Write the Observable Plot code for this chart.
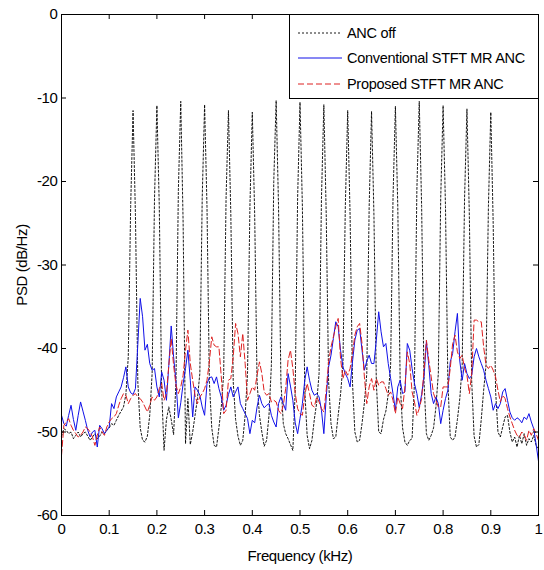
<!DOCTYPE html>
<html>
<head>
<meta charset="utf-8">
<script src="https://cdn.jsdelivr.net/npm/d3@7"></script>
<script src="https://cdn.jsdelivr.net/npm/@observablehq/plot@0.6"></script>
<style>
  html, body { margin: 0; padding: 0; background: white; }
  #wrap { position: relative; width: 544px; height: 570px; }
  #legend {
    position: absolute; left: 289px; top: 14px; width: 248px; height: 83px;
    border: 1px solid black; background: white; box-sizing: content-box;
    font-family: "Liberation Sans", Arial, sans-serif; font-size: 14.5px; letter-spacing: -0.3px;
  }
  .row { position: absolute; left: 0; height: 20px; display: flex; align-items: center; }
  .row svg { margin-left: 8px; margin-right: 5px; }
</style>
</head>
<body>
<div id="wrap"></div>
<script>
// Frequency grid step (kHz); 201 bins from 0 to 1 kHz
const freqStepKHz = 0.005;

const xTicks = [0, 0.1, 0.2, 0.3, 0.4, 0.5, 0.6, 0.7, 0.8, 0.9, 1];
const yTicks = [-60, -50, -40, -30, -20, -10, 0];

const seriesNames = ["ANC off", "Conventional STFT MR ANC", "Proposed STFT MR ANC"];

// PSD (dB/Hz) — ANC off
const ancOff = [
  -50.5,-49.6,-49.8,-50.2,-50.0,-50.8,-50.4,-50.0,-50.6,-50.2,
  -50.0,-50.5,-51.0,-50.6,-50.2,-50.8,-50.5,-50.0,-50.2,-49.8,
  -49.5,-49.0,-49.2,-48.6,-48.0,-47.5,-47.0,-45.5,-41.0,-23.0,
  -11.5,-24.0,-44.0,-49.5,-51.0,-51.2,-50.5,-48.0,-43.0,-22.0,
  -10.9,-23.0,-45.0,-52.2,-48.5,-47.0,-48.5,-50.3,-44.0,-21.0,
  -10.4,-25.0,-51.4,-46.0,-51.5,-50.0,-48.0,-46.0,-43.0,-22.0,
  -10.8,-23.0,-44.0,-49.5,-51.6,-51.8,-49.5,-47.0,-43.0,-22.0,
  -11.5,-24.0,-44.0,-48.5,-50.5,-51.6,-51.0,-48.0,-43.0,-23.0,
  -11.7,-24.0,-44.0,-48.0,-50.0,-51.7,-51.0,-48.0,-42.0,-20.0,
  -10.3,-23.0,-44.0,-49.0,-50.2,-50.8,-51.5,-52.2,-45.0,-22.0,
  -10.5,-23.0,-45.0,-50.4,-52.0,-51.0,-48.5,-46.5,-43.0,-22.0,
  -10.8,-24.0,-44.0,-49.0,-50.8,-50.6,-48.0,-45.5,-42.0,-23.0,
  -11.5,-24.0,-44.0,-50.0,-51.2,-51.0,-49.0,-46.5,-43.0,-23.0,
  -11.6,-24.0,-44.0,-50.0,-50.2,-48.5,-47.5,-45.5,-42.0,-22.0,
  -11.0,-23.0,-44.0,-49.5,-51.2,-51.6,-51.0,-50.8,-44.0,-21.0,
  -10.4,-23.0,-44.0,-50.2,-51.0,-50.4,-49.5,-47.0,-43.0,-22.0,
  -10.9,-23.0,-44.0,-50.6,-51.0,-50.6,-48.5,-46.0,-42.0,-22.0,
  -11.3,-24.0,-44.0,-50.5,-51.8,-51.5,-48.5,-45.0,-42.0,-23.0,
  -11.7,-25.0,-45.0,-50.0,-50.6,-49.4,-48.2,-48.0,-50.0,-51.2,
  -50.6,-51.8,-50.4,-51.4,-50.2,-51.6,-50.8,-51.2,-50.4,-51.6,
  -52.0
];

// PSD (dB/Hz) — Conventional STFT MR ANC
const conventional = [
  -48.0,-49.0,-49.3,-48.0,-46.8,-48.5,-49.8,-48.0,-46.4,-47.5,
  -48.6,-49.8,-50.6,-50.0,-49.8,-51.8,-49.2,-49.6,-50.2,-49.8,
  -49.4,-46.6,-47.2,-45.8,-45.2,-44.6,-43.5,-42.2,-44.6,-45.3,
  -45.5,-44.8,-39.5,-34.0,-36.2,-40.2,-39.5,-41.8,-42.6,-42.4,
  -44.6,-45.8,-42.8,-43.8,-46.2,-42.0,-37.3,-41.0,-44.0,-48.3,
  -46.5,-44.2,-42.4,-40.2,-43.8,-48.2,-44.6,-45.0,-45.6,-47.0,
  -48.0,-44.2,-43.5,-43.4,-44.2,-43.4,-44.8,-45.8,-47.4,-46.8,
  -45.5,-44.6,-45.8,-45.2,-44.6,-46.6,-47.2,-47.8,-48.4,-50.2,
  -48.6,-48.9,-47.0,-45.6,-46.6,-47.1,-46.8,-46.6,-48.0,-48.8,
  -49.4,-46.6,-45.8,-46.6,-47.4,-43.0,-44.5,-46.2,-48.9,-50.2,
  -48.4,-46.6,-43.8,-42.2,-43.8,-45.0,-45.6,-45.4,-45.8,-47.4,
  -50.2,-45.8,-42.2,-40.8,-38.8,-36.8,-37.4,-40.2,-42.2,-43.0,
  -43.6,-44.6,-41.6,-39.0,-37.8,-37.6,-40.2,-42.6,-41.5,-40.8,
  -41.8,-41.8,-39.0,-35.6,-38.0,-39.8,-39.4,-41.8,-43.6,-45.4,
  -47.4,-44.6,-43.8,-45.4,-45.2,-39.4,-40.2,-42.4,-44.2,-45.4,
  -47.1,-45.5,-43.4,-39.2,-42.0,-45.4,-46.6,-45.8,-46.6,-49.0,
  -47.4,-46.0,-45.0,-41.6,-40.6,-38.0,-35.8,-41.5,-43.8,-41.8,
  -43.0,-43.6,-43.2,-41.0,-40.0,-41.0,-41.8,-42.6,-43.8,-44.8,
  -45.8,-47.4,-46.6,-47.2,-46.6,-45.2,-44.8,-46.2,-47.6,-48.3,
  -48.6,-48.3,-48.5,-48.9,-48.2,-48.5,-47.8,-48.8,-49.6,-51.5,
  -53.5
];

// PSD (dB/Hz) — Proposed STFT MR ANC
const proposed = [
  -52.8,-49.2,-48.8,-48.4,-49.2,-49.8,-50.2,-50.6,-50.4,-50.0,
  -49.4,-49.6,-50.0,-50.6,-51.6,-50.4,-49.4,-50.0,-50.4,-49.4,
  -48.8,-48.4,-48.2,-47.8,-46.8,-46.0,-45.4,-45.6,-46.6,-46.0,
  -45.6,-45.4,-45.8,-46.0,-46.4,-47.0,-47.6,-46.8,-45.8,-46.2,
  -45.8,-44.8,-44.2,-46.2,-45.4,-42.0,-38.8,-42.0,-44.4,-45.4,
  -44.6,-43.2,-40.2,-37.8,-41.8,-43.8,-45.6,-46.6,-45.8,-45.4,
  -44.8,-43.8,-41.6,-38.6,-39.6,-39.8,-39.8,-43.4,-47.8,-47.4,
  -43.8,-43.6,-41.0,-37.0,-38.2,-41.0,-38.2,-41.8,-46.2,-45.4,
  -44.6,-45.0,-43.2,-41.6,-43.0,-45.2,-45.6,-45.4,-46.4,-46.2,
  -46.4,-47.4,-47.8,-46.8,-44.8,-41.4,-40.2,-42.4,-45.4,-47.2,
  -47.8,-48.0,-45.6,-44.2,-45.4,-46.8,-47.0,-45.8,-46.4,-47.2,
  -47.6,-45.0,-41.6,-39.8,-38.6,-37.4,-36.4,-41.2,-43.6,-42.6,
  -43.2,-42.4,-40.6,-38.4,-37.4,-37.0,-39.4,-43.4,-46.6,-44.6,
  -43.6,-45.0,-43.6,-44.4,-44.0,-44.0,-44.8,-45.6,-45.2,-46.2,
  -47.8,-45.8,-46.6,-47.2,-44.6,-40.4,-41.8,-45.2,-46.4,-48.0,
  -47.2,-46.0,-42.6,-39.0,-41.4,-43.4,-45.4,-46.2,-47.0,-47.0,
  -44.6,-44.6,-44.6,-42.4,-39.4,-38.4,-40.4,-41.2,-40.8,-42.4,
  -43.2,-45.4,-43.0,-36.6,-36.6,-36.8,-36.8,-39.8,-42.0,-42.4,
  -42.0,-42.6,-43.4,-45.0,-46.4,-45.6,-46.0,-47.2,-48.2,-49.0,
  -49.8,-50.4,-50.6,-50.0,-50.4,-51.0,-49.8,-50.4,-49.6,-50.2,
  -51.0
];

const toRows = (vals) => vals.map((v, i) => ({f: +(i * freqStepKHz).toFixed(4), v}));

const W = 544, H = 570;
const mL = 61, mR = 6, mT = 14, mB = 55;
const xDomain = [0, 1], yDomain = [-60, 0];
const tickPx = 5;
const tickX = tickPx * (xDomain[1] - xDomain[0]) / (W - mL - mR);
const tickY = tickPx * (yDomain[1] - yDomain[0]) / (H - mT - mB);

const fontFamily = '"Liberation Sans", Arial, Helvetica, sans-serif';

const plot = Plot.plot({
  width: W, height: H,
  marginLeft: mL, marginRight: mR, marginTop: mT, marginBottom: mB,
  style: {fontFamily, fontSize: "15px", background: "white", color: "black", letterSpacing: "-0.4px"},
  x: {domain: xDomain, ticks: xTicks, tickFormat: d => String(d), tickSize: 0, tickPadding: 8, label: null},
  y: {domain: yDomain, ticks: yTicks, tickFormat: d => String(d), tickSize: 0, tickPadding: 4, label: null},
  marks: [
    Plot.line(toRows(ancOff), {x: "f", y: "v", stroke: "black", strokeWidth: 0.9, strokeDasharray: "2,2"}),
    Plot.line(toRows(conventional), {x: "f", y: "v", stroke: "#1010e8", strokeWidth: 1}),
    Plot.line(toRows(proposed), {x: "f", y: "v", stroke: "#dd2020", strokeWidth: 1, strokeDasharray: "6,3"}),
    Plot.ruleX(xTicks, {x: d => d, y1: yDomain[0], y2: yDomain[0] + tickY, stroke: "black"}),
    Plot.ruleX(xTicks, {x: d => d, y1: yDomain[1], y2: yDomain[1] - tickY, stroke: "black"}),
    Plot.ruleY(yTicks, {y: d => d, x1: xDomain[0], x2: xDomain[0] + tickX, stroke: "black"}),
    Plot.ruleY(yTicks, {y: d => d, x1: xDomain[1], x2: xDomain[1] - tickX, stroke: "black"}),
    Plot.frame({stroke: "black"}),
    Plot.text(["Frequency (kHz)"], {frameAnchor: "bottom", dy: 41, fontSize: 15, lineAnchor: "middle"}),
    Plot.text(["PSD (dB/Hz)"], {frameAnchor: "left", dx: -39, rotate: -90, fontSize: 15, lineAnchor: "middle", textAnchor: "middle"})
  ]
});

const wrap = document.getElementById("wrap");
wrap.appendChild(plot);

// Legend (inside plot, top-right)
const legend = document.createElement("div");
legend.id = "legend";
const styles = [
  {stroke: "black", dash: "2,2", width: 0.9},
  {stroke: "#1010e8", dash: null, width: 1},
  {stroke: "#dd2020", dash: "6,3", width: 1}
];
const rowCenters = [18, 43, 69];
seriesNames.forEach((name, i) => {
  const row = document.createElement("div");
  row.className = "row";
  row.style.top = (rowCenters[i] - 10) + "px";
  const s = styles[i];
  row.innerHTML = `<svg width="44" height="20"><line x1="0" y1="10" x2="44" y2="10" stroke="${s.stroke}" stroke-width="${s.width}" ${s.dash ? `stroke-dasharray="${s.dash}"` : ""}/></svg><span>${name}</span>`;
  legend.appendChild(row);
});
wrap.appendChild(legend);
</script>
</body>
</html>
